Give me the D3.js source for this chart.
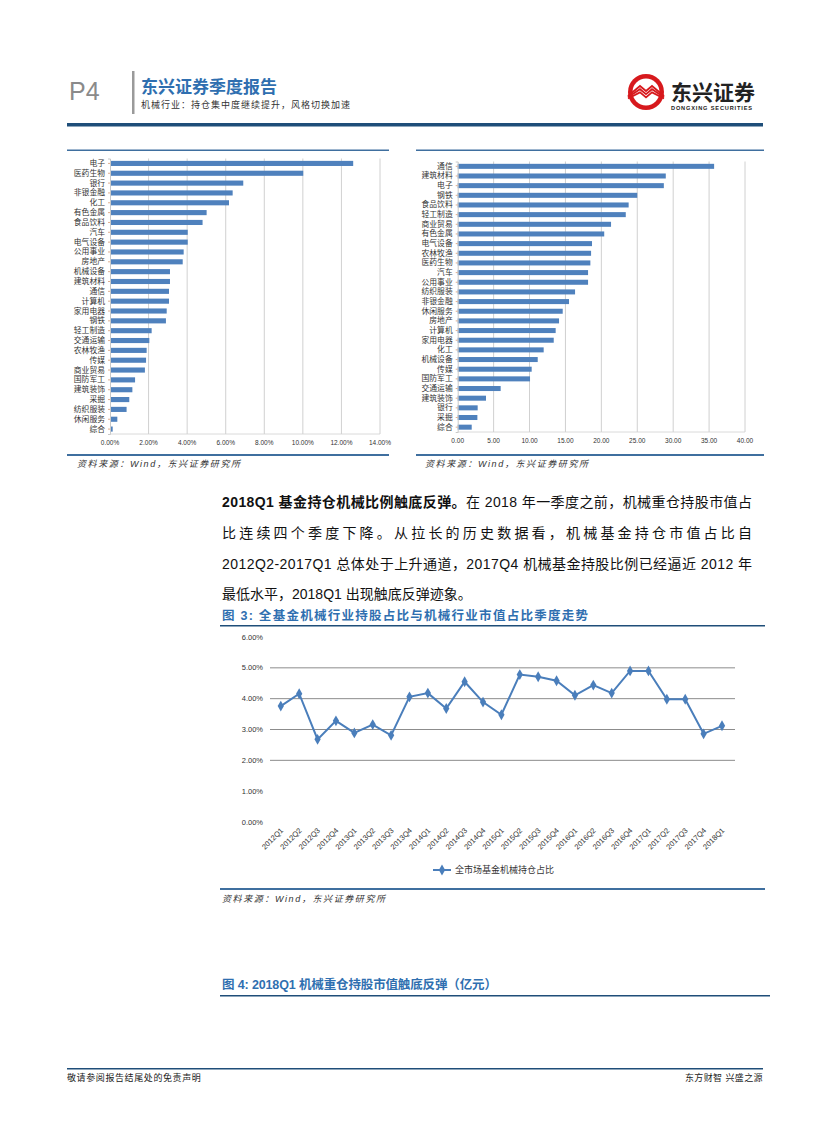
<!DOCTYPE html>
<html><head><meta charset="utf-8">
<script src="https://cdn.jsdelivr.net/npm/d3@7"></script>
<style>
html,body{margin:0;padding:0;background:#fff;}
svg{display:block;}
text{font-family:"Liberation Sans","Noto Sans CJK SC",sans-serif;}
</style></head>
<body>
<script>
// ---------- DATA ----------
const leftCats = ["电子","医药生物","银行","非银金融","化工","有色金属","食品饮料","汽车","电气设备","公用事业","房地产","机械设备","建筑材料","通信","计算机","家用电器","钢铁","轻工制造","交通运输","农林牧渔","传媒","商业贸易","国防军工","建筑装饰","采掘","纺织服装","休闲服务","综合"];
const leftVals = [12.61,10.02,6.91,6.36,6.17,5.01,4.80,4.03,4.03,3.82,3.77,3.11,3.11,3.06,3.06,2.94,2.90,2.16,2.04,1.90,1.87,1.81,1.30,1.16,1.00,0.86,0.38,0.14];
const leftTicks = [0,2,4,6,8,10,12,14];

const rightCats = ["通信","建筑材料","电子","钢铁","食品饮料","轻工制造","商业贸易","有色金属","电气设备","农林牧渔","医药生物","汽车","公用事业","纺织服装","非银金融","休闲服务","房地产","计算机","家用电器","化工","机械设备","传媒","国防军工","交通运输","建筑装饰","银行","采掘","综合"];
const rightVals = [35.7,28.97,28.7,25.0,23.8,23.4,21.35,20.4,18.7,18.57,18.47,18.15,18.15,16.34,15.5,14.62,14.11,13.64,13.37,11.97,11.14,10.3,10.07,5.98,3.94,2.78,2.74,1.95];
const rightTicks = [0,5,10,15,20,25,30,35,40];

const quarters = ["2012Q1","2012Q2","2012Q3","2012Q4","2013Q1","2013Q2","2013Q3","2013Q4","2014Q1","2014Q2","2014Q3","2014Q4","2015Q1","2015Q2","2015Q3","2015Q4","2016Q1","2016Q2","2016Q3","2016Q4","2017Q1","2017Q2","2017Q3","2017Q4","2018Q1"];
const holdPct = [3.76,4.16,2.68,3.28,2.89,3.16,2.81,4.06,4.18,3.68,4.55,3.89,3.48,4.78,4.71,4.58,4.11,4.44,4.18,4.90,4.90,3.98,3.98,2.86,3.12];
const lineTicks = [0,1,2,3,4,5,6];
const lineSeriesName = "全市场基金机械持仓占比";

// ---------- PAGE ----------
const W = 827, H = 1122;
const svg = d3.select("body").append("svg").attr("width", W).attr("height", H);
svg.append("rect").attr("width", W).attr("height", H).attr("fill", "#fff");

const navy = "#1f4e79", steel = "#3f6f9f", barBlue = "#4f81bd", lineBlue = "#4a7ebb";

// Header
svg.append("text").attr("x", 69).attr("y", 100).attr("font-size", 25).attr("fill", "#8a8a8a")
  .attr("font-family", "Liberation Sans, sans-serif").text("P4");
svg.append("rect").attr("x", 132).attr("y", 71).attr("width", 2.5).attr("height", 43).attr("fill", "#9a9a9a");
svg.append("text").attr("x", 141).attr("y", 93).attr("font-size", 17).attr("font-weight", "bold")
  .attr("fill", "#2f6fb0").text("东兴证券季度报告");
svg.append("text").attr("x", 141).attr("y", 108).attr("font-size", 9).attr("letter-spacing", 1).attr("fill", "#333")
  .text("机械行业：持仓集中度继续提升，风格切换加速");

// logo
const lg = svg.append("g").attr("transform", "translate(646,92)");
lg.append("circle").attr("r", 18).attr("fill", "#d7191d");
lg.append("circle").attr("r", 13.5).attr("fill", "#fff");
[0,3.2,6.4].forEach(o => {
  lg.append("path").attr("d", `M-18,${4+o*0.4} L-6,${-6+o} L0,${-1+o} L6,${-6+o} L18,${4+o*0.4}`)
    .attr("fill", "none").attr("stroke", "#d7191d").attr("stroke-width", 1.8);
});
svg.append("text").attr("x", 671).attr("y", 100).attr("font-size", 21).attr("font-weight", "bold")
  .attr("fill", "#222").text("东兴证券");
svg.append("text").attr("x", 671).attr("y", 109.5).attr("font-size", 5.6).attr("font-weight", "bold")
  .attr("fill", "#222").attr("textLength", 81).text("DONGXING SECURITIES");

svg.append("rect").attr("x", 67).attr("y", 123).attr("width", 696).attr("height", 3.5).attr("fill", navy);

// ---------- TOP BAR CHARTS ----------
function sourceText(x, y) {
  svg.append("text").attr("x", x).attr("y", y).attr("font-size", 9).attr("letter-spacing", 1.6).attr("font-style", "italic")
    .attr("fill", "#333").text("资料来源：Wind，东兴证券研究所");
}
svg.append("rect").attr("x", 67).attr("y", 149.5).attr("width", 322).attr("height", 1.5).attr("fill", steel);
svg.append("rect").attr("x", 416).attr("y", 149.5).attr("width", 348).attr("height", 1.5).attr("fill", steel);
svg.append("rect").attr("x", 67).attr("y", 454).attr("width", 322).attr("height", 2).attr("fill", steel);
svg.append("rect").attr("x", 416).attr("y", 454).attr("width", 348).attr("height", 2).attr("fill", steel);
sourceText(77, 467);
sourceText(425, 467);

function barChart(cats, vals, ticks, xr, yr, fmt, tickY) {
  const x = d3.scaleLinear().domain([ticks[0], ticks[ticks.length-1]]).range(xr);
  const y = d3.scaleBand().domain(cats).range(yr).paddingInner(0.48).paddingOuter(0.24);
  const g = svg.append("g");
  g.selectAll("line.grid").data(ticks.slice(1)).join("line")
    .attr("x1", d => x(d)).attr("x2", d => x(d)).attr("y1", yr[0]).attr("y2", yr[1])
    .attr("stroke", "#c4c4c4").attr("stroke-width", 0.8);
  g.selectAll("rect.bar").data(vals).join("rect")
    .attr("x", x(0)).attr("y", (d, i) => y(cats[i]))
    .attr("width", d => x(d) - x(0)).attr("height", y.bandwidth()).attr("fill", barBlue);
  // y axis
  const ya = d3.axisLeft(y).tickSize(2).tickPadding(3);
  const ag = g.append("g").attr("transform", `translate(${x(0)},0)`).call(ya);
  ag.select(".domain").attr("stroke", "#c8c8c8");
  ag.selectAll(".tick line").attr("stroke", "#e0b090");
  ag.selectAll("text").attr("font-size", 7.8).attr("fill", "#333")
    .attr("font-family", "Noto Sans CJK SC, sans-serif");
  // x tick labels
  g.selectAll("text.xt").data(ticks).join("text")
    .attr("x", d => x(d)).attr("y", tickY).attr("text-anchor", "middle")
    .attr("font-size", 6.5).attr("fill", "#333").text(fmt);
  g.append("line").attr("x1", xr[0]).attr("x2", xr[1]).attr("y1", yr[1]).attr("y2", yr[1])
    .attr("stroke", "#d0d0d0").attr("stroke-width", 0.8);
}
barChart(leftCats, leftVals, leftTicks, [110, 380], [158.5, 434], d => d.toFixed(2) + "%", 445);
barChart(rightCats, rightVals, rightTicks, [457.7, 745], [161.5, 432], d => d.toFixed(2), 443);

// ---------- PARAGRAPH ----------
const para = [
  {parts: [{t: "2018Q1 基金持仓机械比例触底反弹。", b: true}, {t: "在 2018 年一季度之前，机械重仓持股市值占"}], justify: true},
  {parts: [{t: "比连续四个季度下降。从拉长的历史数据看，机械基金持仓市值占比自"}], justify: true},
  {parts: [{t: "2012Q2-2017Q1 总体处于上升通道，2017Q4 机械基金持股比例已经逼近 2012 年"}], justify: true},
  {parts: [{t: "最低水平，2018Q1 出现触底反弹迹象。"}], justify: false}
];
const paraY = [507, 538, 569, 599];
para.forEach((ln, i) => {
  const t = svg.append("text").attr("x", 222).attr("y", paraY[i]).attr("font-size", 14).attr("fill", "#111");
  ln.parts.forEach(p => t.append("tspan").attr("font-weight", p.b ? "bold" : "normal").text(p.t));
  if (ln.justify) {
    const w = t.node().getComputedTextLength();
    const n = ln.parts.map(p => p.t).join("").length;
    const ls = (752 - 222 - w) / (n - 1);
    t.attr("letter-spacing", ls);
  }
});

// ---------- FIGURE 3 ----------
svg.append("text").attr("x", 222).attr("y", 620).attr("font-size", 12.5).attr("font-weight", "bold").attr("fill", "#2f6fb0")
  .attr("textLength", 366).attr("lengthAdjust", "spacing")
  .text("图 3: 全基金机械行业持股占比与机械行业市值占比季度走势");
svg.append("rect").attr("x", 220).attr("y", 625).attr("width", 545).attr("height", 1.5).attr("fill", navy);

const lx = d3.scalePoint().domain(quarters).range([280.8, 722]);
const ly = d3.scaleLinear().domain([0, 6]).range([822, 637]);
const lg3 = svg.append("g");
lg3.selectAll("line.hg").data(lineTicks.filter(d => d >= 2 && d <= 5)).join("line")
  .attr("x1", 270).attr("x2", 735).attr("y1", d => ly(d)).attr("y2", d => ly(d))
  .attr("stroke", "#8c8c8c").attr("stroke-width", 1);
lg3.selectAll("text.yt").data(lineTicks).join("text")
  .attr("x", 263).attr("y", d => ly(d) + 2.5).attr("text-anchor", "end")
  .attr("font-size", 7.5).attr("fill", "#333").text(d => d.toFixed(2) + "%");
const line = d3.line().x((d, i) => lx(quarters[i])).y(d => ly(d));
lg3.append("path").datum(holdPct).attr("d", line).attr("fill", "none")
  .attr("stroke", lineBlue).attr("stroke-width", 2);
const diamond = d3.symbol().type(d3.symbolDiamond).size(34);
lg3.selectAll("path.pt").data(holdPct).join("path")
  .attr("transform", (d, i) => `translate(${lx(quarters[i])},${ly(d)})`)
  .attr("d", diamond).attr("fill", lineBlue);
lg3.selectAll("text.xl").data(quarters).join("text")
  .attr("transform", d => `translate(${lx(d) + 3},${831}) rotate(-45)`)
  .attr("text-anchor", "end").attr("font-size", 7.5).attr("fill", "#333").text(d => d);
// legend
const legX = 433, legY = 870;
lg3.append("line").attr("x1", legX).attr("x2", legX + 18).attr("y1", legY).attr("y2", legY)
  .attr("stroke", lineBlue).attr("stroke-width", 2);
lg3.append("path").attr("transform", `translate(${legX + 9},${legY})`).attr("d", diamond).attr("fill", lineBlue);
lg3.append("text").attr("x", legX + 22).attr("y", legY + 3).attr("font-size", 9).attr("fill", "#333").text(lineSeriesName);

svg.append("rect").attr("x", 220).attr("y", 888).attr("width", 545).attr("height", 2).attr("fill", steel);
sourceText(222, 902);

// ---------- FIGURE 4 ----------
svg.append("text").attr("x", 222).attr("y", 989).attr("font-size", 12.5).attr("font-weight", "bold")
  .attr("textLength", 275).attr("lengthAdjust", "spacing")
  .attr("fill", "#2f6fb0").text("图 4: 2018Q1 机械重仓持股市值触底反弹（亿元）");
svg.append("rect").attr("x", 220).attr("y", 995).attr("width", 550).attr("height", 1.5).attr("fill", navy);

// ---------- FOOTER ----------
svg.append("rect").attr("x", 67).attr("y", 1068).attr("width", 696).attr("height", 1.5).attr("fill", navy);
svg.append("text").attr("x", 67).attr("y", 1081).attr("font-size", 9).attr("letter-spacing", 0.6).attr("fill", "#222").text("敬请参阅报告结尾处的免责声明");
svg.append("text").attr("x", 763).attr("y", 1081).attr("text-anchor", "end").attr("font-size", 9).attr("letter-spacing", 0.4).attr("fill", "#222").text("东方财智 兴盛之源");
</script>
</body></html>
